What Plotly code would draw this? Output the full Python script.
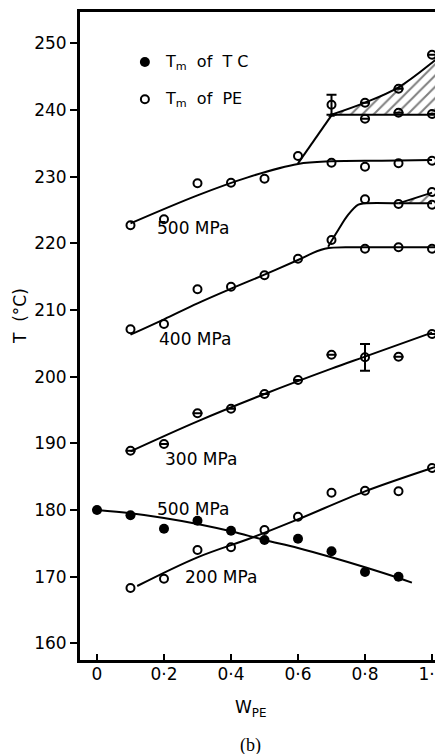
import plotly.graph_objects as go

# ---- data ----
w = [0.1, 0.2, 0.3, 0.4, 0.5, 0.6, 0.7, 0.8, 0.9, 1.0]
pe_500 = [222.7, 223.6, 229.0, 229.1, 229.7, 233.1, 232.1, 231.5, 232.0, 232.4]
pe_500_hi_x = [0.7, 0.8, 0.8, 0.9, 0.9, 1.0, 1.0]
pe_500_hi_y = [240.8, 241.1, 238.7, 243.2, 239.6, 248.3, 239.4]
pe_400 = [207.1, 207.9, 213.1, 213.5, 215.2, 217.7, 220.5, 219.2, 219.4, 219.2]
pe_400_hi_x = [0.8, 0.9, 1.0, 1.0]
pe_400_hi_y = [226.6, 225.9, 227.7, 225.8]
pe_300 = [188.9, 189.9, 194.5, 195.2, 197.4, 199.5, 203.3, 202.9, 203.0, 206.4]
pe_200 = [168.3, 169.7, 174.0, 174.4, 177.0, 179.0, 182.6, 182.9, 182.8, 186.3]
w_tc = [0.0, 0.1, 0.2, 0.3, 0.4, 0.5, 0.6, 0.7, 0.8, 0.9]
tc_500 = [180.0, 179.2, 177.2, 178.4, 176.9, 175.5, 175.7, 173.8, 170.7, 170.0]

# fitted curves
c500_x = [0.1, 0.3, 0.45, 0.6, 0.7, 0.85, 1.0]
c500_y = [223.0, 227.2, 229.9, 231.9, 232.3, 232.4, 232.5]
c500u_x = [0.6, 0.65, 0.7]
c500u_y = [232.0, 235.6, 239.2]
h500_x = [0.7, 0.8, 0.9, 1.0, 1.03]
h500_top = [239.3, 241.1, 243.4, 247.1, 248.4]
h500_bot = [239.3, 239.3, 239.3, 239.3, 239.3]
c400_x = [0.1, 0.2, 0.3, 0.4, 0.5, 0.6, 0.68, 0.8, 1.03]
c400_y = [206.3, 208.6, 211.0, 213.2, 215.3, 217.5, 219.2, 219.4, 219.4]
c400u_x = [0.69, 0.72, 0.75, 0.78, 0.8, 0.9]
c400u_y = [219.5, 222.0, 224.3, 225.8, 226.0, 226.0]
h400_x = [0.9, 1.0]
h400_top = [226.0, 227.6]
h400_bot = [226.0, 226.0]
c300_x = [0.1, 0.3, 0.5, 0.7, 0.8, 1.0]
c300_y = [188.8, 193.3, 197.4, 201.2, 203.0, 206.6]
c200_x = [0.12, 0.3, 0.46, 0.6, 0.8, 1.0, 1.03]
c200_y = [168.6, 172.9, 175.8, 178.6, 182.8, 186.3, 186.8]
ctc_x = [0.0, 0.1, 0.2, 0.3, 0.4, 0.5, 0.6, 0.7, 0.8, 0.9, 0.94]
ctc_y = [180.0, 179.5, 178.8, 177.9, 176.8, 175.5, 174.3, 172.9, 171.4, 169.8, 169.1]

err_500 = 1.5
err_300 = 2.0

x_ticks = [0, 0.2, 0.4, 0.6, 0.8, 1.0]
x_tick_text = ["0", "0·2", "0·4", "0·6", "0·8", "1·0"]
y_ticks = [160, 170, 180, 190, 200, 210, 220, 230, 240, 250]

labels = [("500 MPa", 0.173, 222.3), ("400 MPa", 0.179, 205.7),
          ("300 MPa", 0.197, 187.7), ("500 MPa", 0.173, 180.2),
          ("200 MPa", 0.257, 170.0)]

FONT = "DejaVu Sans"
fig = go.Figure()

# hatched regions
for hx, ht, hb in [(h500_x, h500_top, h500_bot), (h400_x, h400_top, h400_bot)]:
    fig.add_trace(go.Scatter(x=hx + hx[::-1], y=ht + hb[::-1], fill="toself",
                             mode="none", fillcolor="rgba(0,0,0,0)",
                             fillpattern=dict(shape="/", fgcolor="black", bgcolor="white",
                                              size=8, solidity=0.25),
                             showlegend=False, hoverinfo="skip"))
    fig.add_trace(go.Scatter(x=hx, y=ht, mode="lines", line=dict(color="black", width=2),
                             line_shape="spline", showlegend=False))
    fig.add_trace(go.Scatter(x=hx, y=hb, mode="lines", line=dict(color="black", width=2),
                             showlegend=False))

for cx, cy in [(c500_x, c500_y), (c500u_x, c500u_y), (c400_x, c400_y), (c400u_x, c400u_y),
               (c300_x, c300_y), (c200_x, c200_y), (ctc_x, ctc_y)]:
    fig.add_trace(go.Scatter(x=cx, y=cy, mode="lines", line=dict(color="black", width=2),
                             line_shape="spline", showlegend=False))

open_m = dict(symbol="circle-open", size=8, color="black", line=dict(width=2, color="black"))

def pe(xs, ys, err=None):
    kw = {}
    if err is not None:
        kw["error_y"] = dict(type="data", array=err, color="black", thickness=2, width=5)
    fig.add_trace(go.Scatter(x=xs, y=ys, mode="markers", marker=open_m, showlegend=False,
                             cliponaxis=False, **kw))

pe(w, pe_500)
pe(pe_500_hi_x, pe_500_hi_y, [err_500, 0, 0, 0, 0, 0, 0])
pe(w, pe_400)
pe(pe_400_hi_x, pe_400_hi_y)
pe(w, pe_300, [0, 0, 0, 0, 0, 0, 0, err_300, 0, 0])
pe(w, pe_200)
fig.add_trace(go.Scatter(x=[0.7], y=[239.2], mode="markers",
                         marker=dict(symbol="triangle-up", size=6, color="black"), showlegend=False))
fig.add_trace(go.Scatter(x=w_tc, y=tc_500, mode="markers",
                         marker=dict(symbol="circle", size=10, color="black"), showlegend=False))

# legend (drawn in plot)
fig.add_trace(go.Scatter(x=[0.143], y=[247.2], mode="markers",
                         marker=dict(symbol="circle", size=10, color="black"), showlegend=False))
fig.add_trace(go.Scatter(x=[0.143], y=[241.6], mode="markers", marker=open_m, showlegend=False))

ann = []
ann.append(dict(x=0.197, y=247.2, text="T<sub>m</sub>  of  T C", showarrow=False, xanchor="left",
                yanchor="middle", font=dict(size=16, family=FONT, color="black")))
ann.append(dict(x=0.197, y=241.6, text="T<sub>m</sub>  of  PE", showarrow=False, xanchor="left",
                yanchor="middle", font=dict(size=16, family=FONT, color="black")))
for t, lx, ly in labels:
    ann.append(dict(x=lx, y=ly, text=t, showarrow=False, xanchor="left", yanchor="middle",
                    font=dict(size=17, family=FONT, color="black")))
ann.append(dict(x=-0.165, y=0.531, xref="paper", yref="paper", text="T  (°C)", textangle=-90,
                xanchor="center", yanchor="middle",
                showarrow=False, font=dict(size=17, family=FONT, color="black")))
ann.append(dict(x=0.471, y=-0.075, xref="paper", yref="paper", text="W<sub>PE</sub>",
                xanchor="center", yanchor="middle",
                showarrow=False, font=dict(size=17, family=FONT, color="black")))
ann.append(dict(x=0.469, y=-0.132, xref="paper", yref="paper", text="(b)",
                xanchor="center", yanchor="middle",
                showarrow=False, font=dict(size=18, family="Liberation Serif", color="black")))

# page body has an 8px margin: shrink figure and margins to compensate
fig.update_layout(
    width=435, height=746, margin=dict(l=72, r=0, t=4, b=94, autoexpand=False),
    paper_bgcolor="white", plot_bgcolor="white", showlegend=False,
    annotations=ann,
    xaxis=dict(range=[-0.0507, 1.0328], tickvals=x_ticks, ticktext=x_tick_text,
               ticks="inside", ticklen=6, tickwidth=2, tickcolor="black",
               showline=True, linewidth=3, linecolor="black", mirror=True,
               showgrid=False, zeroline=False, automargin=False, ticklabeloverflow="allow",
               ticklabelstandoff=-3,
               tickfont=dict(size=17, family=FONT, color="black")),
    yaxis=dict(range=[157.5, 254.7], tickvals=y_ticks,
               ticks="outside", ticklen=7, tickwidth=2, tickcolor="black",
               showline=True, linewidth=3, linecolor="black",
               showgrid=False, zeroline=False, automargin=False,
               tickfont=dict(size=17, family=FONT, color="black")),
)

fig.write_html("out.html")
